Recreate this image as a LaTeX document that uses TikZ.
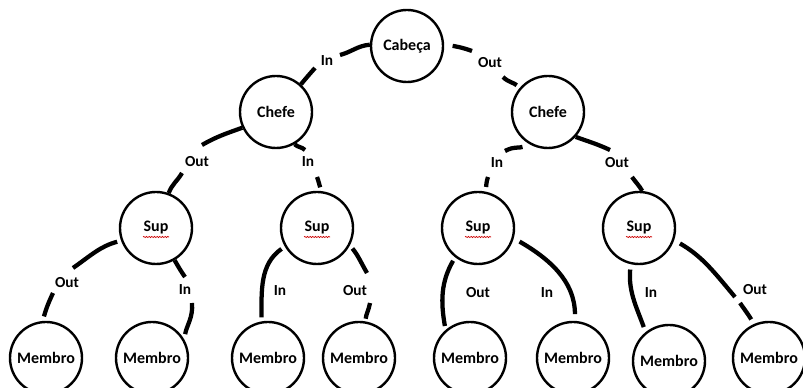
\documentclass[tikz,border=0pt]{standalone}
\usepackage{fontspec}
\setmainfont{Carlito}
\usetikzlibrary{decorations.pathmorphing}
\tikzset{
  person/.style={circle, draw=black, line width=1.8pt, minimum size=54pt, inner sep=0pt, font=\fontsize{12}{14}\selectfont\bfseries},
  conn/.style={line width=3.2pt, black},
  lbl/.style={font=\fontsize{11.5}{13}\selectfont\bfseries, inner sep=0pt},
  squig/.style={red!80!black, line width=0.5pt, decorate, decoration={snake, amplitude=0.45pt, segment length=2pt}}
}
\begin{document}
\begin{tikzpicture}[x=0.75pt,y=0.75pt]
\useasboundingbox (0,0) rectangle (803,388);
% nodes
\node[person] (cab) at (407,342) {Cabeça};
\node[person] (chL) at (276,276) {Chefe};
\node[person] (chR) at (548,276) {Chefe};
\node[person] (s1) at (156,160) {Sup};
\node[person] (s2) at (317,160) {Sup};
\node[person] (s3) at (478,160) {Sup};
\node[person] (s4) at (639,160) {Sup};
\node[person] (m1) at (46,30) {Membro};
\node[person] (m2) at (152,30) {Membro};
\node[person] (m3) at (268,30) {Membro};
\node[person] (m4) at (359,30) {Membro};
\node[person] (m5) at (470,30) {Membro};
\node[person] (m6) at (573,30) {Membro};
\node[person] (m7) at (669,27) {Membro};
\node[person] (m8) at (769,30) {Membro};
% spell-check squiggles under Sup
\foreach \s in {s1,s2,s3,s4}{
  \draw[squig] ([shift={(-13,-9)}]\s.center) -- ([shift={(13,-9)}]\s.center);
}
% gap coordinates
\coordinate (e1a) at (340,333); \coordinate (e1b) at (315,320);
\coordinate (e2a) at (472,337); \coordinate (e2b) at (503,311);
\coordinate (e3a) at (202,243); \coordinate (e3b) at (182,215);
\coordinate (e4a) at (305,238); \coordinate (e4b) at (317,211);
\coordinate (e5a) at (505,237); \coordinate (e5b) at (488,211);
\coordinate (e6a) at (610,238); \coordinate (e6b) at (632,211);
\coordinate (e7a) at (73,120);  \coordinate (e7b) at (53,95);
\coordinate (e8a) at (185,111); \coordinate (e8b) at (192,85);
\coordinate (e10a) at (367,115); \coordinate (e10b) at (370,85);
\coordinate (e14a) at (735,91); \coordinate (e14b) at (740,85);
% Cabeca - Chefe L (In)
\draw[conn] (cab.178) to[out=185,in=15] (e1a);
\draw[conn] (e1b) to[out=228,in=50] (chL.48);
\node[lbl] (l1) at (327,327) {In};
% Cabeca - Chefe R (Out)
\draw[conn, shorten <=6.5pt] (cab.3) to[out=-12,in=160] (e2a);
\draw[conn, shorten >=3pt] (e2b) to[out=-45,in=135] (chR.140);
\node[lbl] (l2) at (490,325) {Out};
% Chefe L - Sup1 (Out)
\draw[conn] (chL.205) to[out=200,in=30] (e3a);
\draw[conn] (e3b) to[out=240,in=70] (s1.70);
\node[lbl] (l3) at (197,226) {Out};
% Chefe L - Sup2 (In)
\draw[conn] (chL.300) to[out=-45,in=135] (e4a);
\draw[conn, shorten >=3pt] (e4b) to[out=-70,in=110] (s2.83);
\node[lbl] (l4) at (308,226) {In};
% Chefe R - Sup3 (In)
\draw[conn, shorten <=5pt] (chR.238) to[out=210,in=30] (e5a);
\draw[conn, shorten >=3.5pt] (e5b) to[out=250,in=70] (s3.80);
\node[lbl] (l5) at (497,225) {In};
% Chefe R - Sup4 (Out)
\draw[conn] (chR.318) to[out=-20,in=155] (e6a);
\draw[conn] (e6b) to[out=-55,in=120] (s4.85);
\node[lbl] (l6) at (617,225) {Out};
% Sup1 - Membro1 (Out)
\draw[conn, shorten <=3pt] (s1.200) to[out=195,in=35] (e7a);
\draw[conn, shorten >=3.5pt] (e7b) to[out=245,in=75] (m1.95);
\node[lbl] (l7) at (67,105) {Out};
% Sup1 - Membro2 (In)
\draw[conn] (s1.300) to[out=-60,in=125] (e8a);
\draw[conn, shorten >=4pt] (e8b) to[out=-85,in=80] (m2.30);
\node[lbl] (l8) at (185,98) {In};
% Sup2 - Membro3 (In)
\draw[conn, shorten <=3pt, shorten >=3pt] (s2.210) to[out=215,in=90] (m3.100);
\node[lbl] (l9) at (280,97) {In};
% Sup2 - Membro4 (Out)
\draw[conn, shorten <=3pt] (s2.332) to[out=-50,in=120] (e10a);
\draw[conn, shorten >=2pt] (e10b) to[out=-100,in=85] (m4.80);
\node[lbl] (l10) at (355,97) {Out};
% Sup3 - Membro5 (Out)
\draw[conn, shorten <=3pt, shorten >=3pt] (s3.232) to[out=240,in=100] (m5.131);
\node[lbl] (l11) at (478,95) {Out};
% Sup3 - Membro6 (In)
\draw[conn, shorten <=5pt, shorten >=5pt] (s3.-16) to[out=-30,in=90] (m6.87);
\node[lbl] (l12) at (547,95) {In};
% Sup4 - Membro7 (In)
\draw[conn, shorten <=4pt, shorten >=4pt] (s4.257) to[out=265,in=110] (m7.129);
\node[lbl] (l13) at (651,95) {In};
% Sup4 - Membro8 (Out)
\draw[conn, shorten <=5pt] (s4.-19) to[out=-30,in=130] (e14a);
\draw[conn, shorten >=4pt] (e14b) to[out=-55,in=120] (m8.114);
\node[lbl] (l14) at (755,98) {Out};
\end{tikzpicture}
\end{document}
